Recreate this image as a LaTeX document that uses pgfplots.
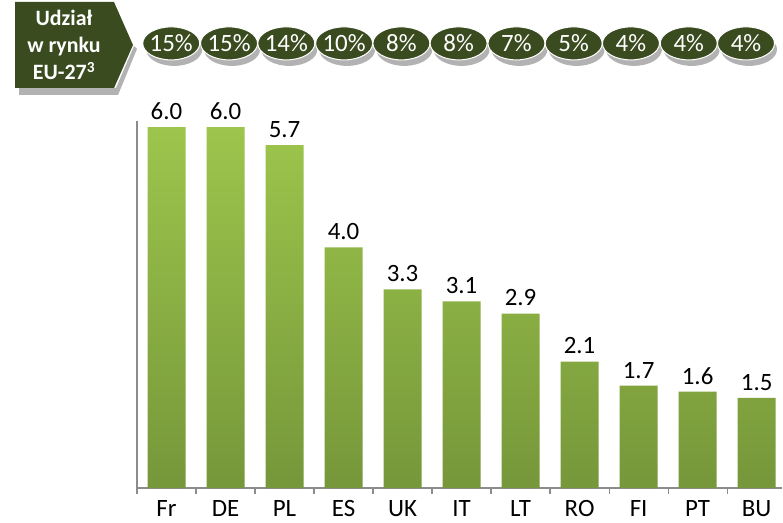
\documentclass[border=0pt]{standalone}
\usepackage{pgfplots}
\pgfplotsset{compat=1.18}
\usepackage{fontspec}
\setmainfont{Carlito}
\definecolor{darkolive}{HTML}{3A4B1F}
\definecolor{bartop}{HTML}{9DC54C}
\definecolor{barbot}{HTML}{76973A}
\definecolor{axgray}{HTML}{8C8C8C}
\newcommand\coin[2]{%
  \fill[gray!60] ([shift={(3bp,-6bp)}]axis cs:#1,7.39) ellipse [x radius=28bp, y radius=16.5bp];
  \filldraw[fill=darkolive, draw=white, line width=1bp] (axis cs:#1,7.39) ellipse [x radius=28.5bp, y radius=16.5bp];
  \node[text=white, font=\fontsize{25}{28}\selectfont] at (axis cs:#1,7.39) {#2};
}
\begin{document}
\begin{tikzpicture}[x=1bp,y=1bp]
\path[use as bounding box] (0,0) rectangle (783,-523);
\fill[gray!60] (19,-88) -- (116,-88) -- (134,-46) -- (137,-49) -- (118,-95) -- (19,-95) -- cycle;
\fill[darkolive] (15,-2) -- (114,-2) -- (133,-45) -- (114,-88) -- (15,-88) -- cycle;
\node[align=center, text=white, font=\fontsize{22}{27}\selectfont\bfseries] at (64,-45) {Udział\\w rynku\\EU-27\textsuperscript{3}};
\begin{axis}[
  at={(137bp,-488bp)}, anchor=south west,
  scale only axis, width=645bp, height=367bp,
  xmin=-0.5, xmax=10.43, ymin=0, ymax=6.1,
  clip=false,
  axis lines*=left,
  axis line style={draw=axgray, line width=1.2bp},
  ytick=\empty,
  xtick={0,...,10},
  xticklabels={Fr,DE,PL,ES,UK,IT,LT,RO,FI,PT,BU},
  major x tick style={draw=none},
  extra x ticks={-0.5,0.5,1.5,2.5,3.5,4.5,5.5,6.5,7.5,8.5,9.5},
  extra x tick labels={},
  extra x tick style={tick align=outside, major tick length=6bp, major x tick style={draw=axgray, line width=1.2bp}},
  xticklabel style={font=\fontsize{25}{28}\selectfont, inner sep=0pt, text depth=0pt, anchor=north, yshift=-8bp},
  ybar, bar width=38bp,
  nodes near coords={\pgfmathprintnumber[fixed,fixed zerofill,precision=1,assume math mode=true]{\pgfplotspointmeta}},
  nodes near coords style={font=\fontsize{25}{28}\selectfont, text=black, yshift=4bp},
]
\addplot[draw=none, top color=bartop, bottom color=barbot] coordinates {
  (0,6.0) (1,6.0) (2,5.7) (3,4.0) (4,3.3) (5,3.1) (6,2.9) (7,2.1) (8,1.7) (9,1.6) (10,1.5)};
\coin{0.08}{15\%}
\coin{1.06}{15\%}
\coin{2.03}{14\%}
\coin{3.01}{10\%}
\coin{3.98}{8\%}
\coin{4.95}{8\%}
\coin{5.93}{7\%}
\coin{6.90}{5\%}
\coin{7.87}{4\%}
\coin{8.85}{4\%}
\coin{9.82}{4\%}
\end{axis}
\end{tikzpicture}
\end{document}
